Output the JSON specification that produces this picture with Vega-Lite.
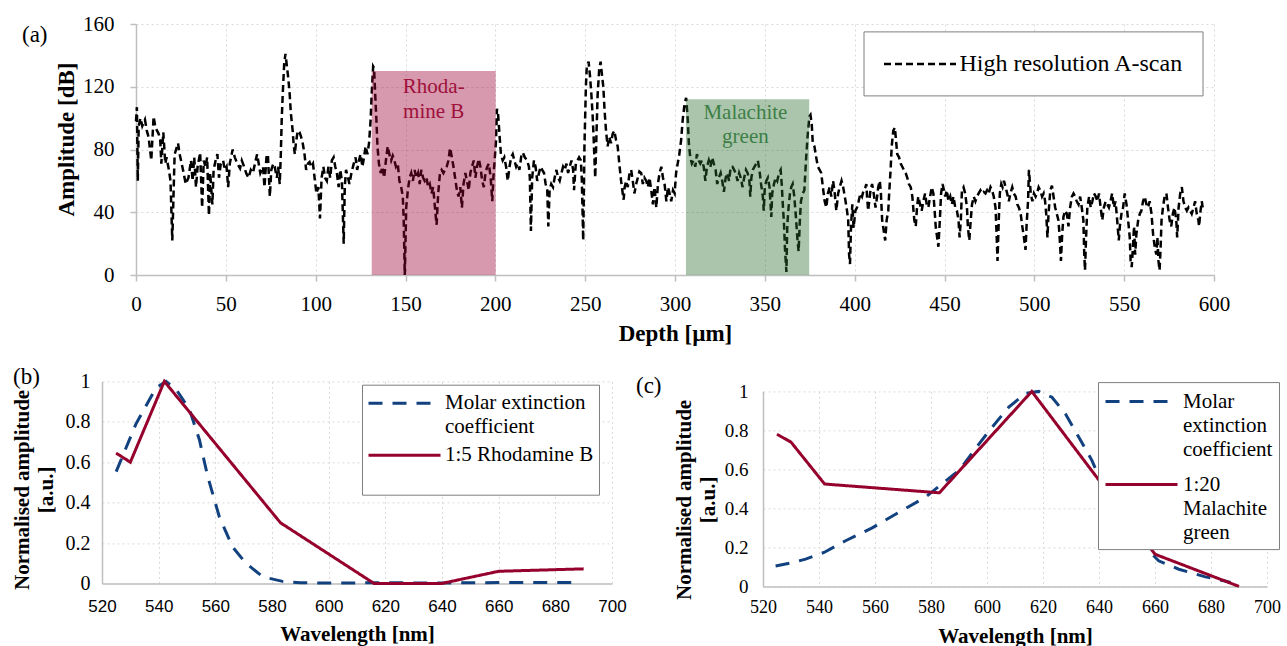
{
  "$schema": "https://vega.github.io/schema/vega-lite/v6.json",
  "padding": {"left": 11, "top": 13, "right": 0, "bottom": 0},
  "background": "white",
  "config": {
    "view": {"stroke": null},
    "font": "Liberation Serif",
    "style": {"guide-label": {"lineHeight": 24}},
    "axis": {
      "labelColor": "#000", "titleColor": "#000", "domainColor": "#bfbfbf", "domainWidth": 1.5,
      "tickColor": "#bfbfbf", "tickWidth": 1.5, "gridColor": "#d9d9d9", "gridDash": [2, 3], "gridWidth": 1,
      "labelFont": "Liberation Serif", "titleFont": "Liberation Serif", "titleFontWeight": "bold",
      "labelFlush": false, "labelOverlap": false
    }
  },
  "datasets": {
    "ascan": [
      {"d":0,"a":98},{"d":0.5,"a":107},{"d":1,"a":60},{"d":1.5,"a":95},{"d":2.5,"a":100},{"d":3.5,"a":95},{"d":5,"a":99},{"d":6,"a":92},{"d":7,"a":88},{"d":8.5,"a":73},{"d":9.8,"a":101},{"d":10.8,"a":94},{"d":12.6,"a":90},{"d":13.5,"a":86},{"d":14.1,"a":71},{"d":15.2,"a":91},{"d":16.3,"a":71},{"d":17,"a":75},{"d":18.3,"a":67},{"d":19.2,"a":60},{"d":20.2,"a":22},{"d":21.5,"a":77},{"d":23.4,"a":84},{"d":24.3,"a":77},{"d":25.8,"a":69},{"d":27.7,"a":58},{"d":29.2,"a":62},{"d":30.6,"a":73},{"d":31.5,"a":60},{"d":32.4,"a":75},{"d":33.4,"a":56},{"d":34.3,"a":69},{"d":35.7,"a":78},{"d":36.8,"a":43},{"d":37.7,"a":73},{"d":38.7,"a":69},{"d":39.6,"a":75},{"d":40.6,"a":38},{"d":41.3,"a":65},{"d":42.5,"a":45},{"d":43.2,"a":67},{"d":44.3,"a":73},{"d":45.3,"a":77},{"d":46.2,"a":62},{"d":47.2,"a":71},{"d":48.5,"a":73},{"d":49.4,"a":67},{"d":50.4,"a":69},{"d":51.3,"a":56},{"d":52.2,"a":71},{"d":53.8,"a":80},{"d":55,"a":75},{"d":56.4,"a":71},{"d":57.9,"a":68},{"d":58.9,"a":73},{"d":60.2,"a":69},{"d":61.3,"a":65},{"d":62.6,"a":62},{"d":63.9,"a":67},{"d":65.1,"a":65},{"d":66.2,"a":71},{"d":67.4,"a":77},{"d":68.3,"a":71},{"d":69.2,"a":65},{"d":70.7,"a":69},{"d":71.5,"a":56},{"d":72.6,"a":75},{"d":73.4,"a":77},{"d":74.5,"a":50},{"d":75.3,"a":67},{"d":76.4,"a":71},{"d":77.2,"a":69},{"d":78.4,"a":62},{"d":79.1,"a":69},{"d":80,"a":58},{"d":80.6,"a":77},{"d":81.1,"a":99},{"d":81.7,"a":116},{"d":82.5,"a":135},{"d":83.2,"a":141},{"d":84,"a":133},{"d":84.7,"a":126},{"d":85.5,"a":116},{"d":86.2,"a":103},{"d":87.2,"a":92},{"d":87.7,"a":84},{"d":88.4,"a":77},{"d":89,"a":84},{"d":90,"a":92},{"d":91,"a":91},{"d":91.9,"a":88},{"d":92.8,"a":84},{"d":93.8,"a":77},{"d":94.7,"a":67},{"d":95.7,"a":71},{"d":96.6,"a":72},{"d":97.5,"a":69},{"d":98.5,"a":71},{"d":99.4,"a":62},{"d":100.4,"a":52},{"d":101.5,"a":56},{"d":102.4,"a":36},{"d":103.3,"a":62},{"d":104.3,"a":69},{"d":105.2,"a":62},{"d":106.2,"a":60},{"d":107.1,"a":69},{"d":108.1,"a":62},{"d":109,"a":73},{"d":110,"a":75},{"d":110.9,"a":69},{"d":111.8,"a":65},{"d":112.8,"a":56},{"d":113.7,"a":67},{"d":114.6,"a":60},{"d":115.6,"a":20},{"d":116.2,"a":56},{"d":116.9,"a":67},{"d":118,"a":62},{"d":118.8,"a":58},{"d":119.9,"a":65},{"d":121.2,"a":71},{"d":122.2,"a":75},{"d":123.1,"a":67},{"d":124.1,"a":73},{"d":125,"a":77},{"d":126,"a":69},{"d":126.9,"a":75},{"d":127.8,"a":82},{"d":128.8,"a":77},{"d":129.7,"a":84},{"d":130.6,"a":99},{"d":131.2,"a":116},{"d":132,"a":133},{"d":132.5,"a":132},{"d":133.1,"a":116},{"d":133.8,"a":99},{"d":134.4,"a":82},{"d":135.2,"a":71},{"d":136.2,"a":65},{"d":137.2,"a":69},{"d":138.1,"a":62},{"d":139.1,"a":73},{"d":140.1,"a":82},{"d":141,"a":77},{"d":142,"a":73},{"d":142.9,"a":76},{"d":143.8,"a":73},{"d":144.7,"a":69},{"d":145.7,"a":71},{"d":146.6,"a":60},{"d":147.6,"a":56},{"d":148.5,"a":50},{"d":149,"a":35},{"d":149.6,"a":0},{"d":150.4,"a":43},{"d":151.3,"a":54},{"d":152.3,"a":62},{"d":153.2,"a":65},{"d":154.1,"a":60},{"d":155.1,"a":67},{"d":156,"a":62},{"d":157,"a":65},{"d":157.9,"a":58},{"d":158.8,"a":67},{"d":159.8,"a":62},{"d":160.7,"a":60},{"d":161.7,"a":62},{"d":162.6,"a":56},{"d":163.5,"a":58},{"d":164.5,"a":52},{"d":165.4,"a":56},{"d":166.4,"a":43},{"d":167.3,"a":32},{"d":168.2,"a":52},{"d":169.2,"a":65},{"d":170.1,"a":67},{"d":171.1,"a":65},{"d":172,"a":67},{"d":172.9,"a":69},{"d":173.9,"a":73},{"d":174.8,"a":81},{"d":175.8,"a":75},{"d":176.7,"a":69},{"d":177.6,"a":62},{"d":178.6,"a":54},{"d":179.5,"a":50},{"d":180.5,"a":56},{"d":181.4,"a":43},{"d":182.3,"a":58},{"d":183.3,"a":65},{"d":184.2,"a":60},{"d":185.2,"a":54},{"d":186.1,"a":65},{"d":187,"a":69},{"d":188,"a":73},{"d":188.9,"a":62},{"d":189.8,"a":69},{"d":190.8,"a":74},{"d":191.7,"a":69},{"d":192.7,"a":60},{"d":193.6,"a":56},{"d":194.5,"a":65},{"d":195.5,"a":69},{"d":196.4,"a":71},{"d":197.4,"a":62},{"d":198.3,"a":47},{"d":198.9,"a":62},{"d":199.6,"a":73},{"d":200.4,"a":86},{"d":200.9,"a":106},{"d":201.5,"a":103},{"d":202.4,"a":88},{"d":203.1,"a":77},{"d":204.1,"a":73},{"d":205,"a":75},{"d":206,"a":69},{"d":206.9,"a":60},{"d":207.9,"a":69},{"d":208.8,"a":75},{"d":209.7,"a":77},{"d":210.6,"a":73},{"d":211.6,"a":69},{"d":212.5,"a":71},{"d":213.4,"a":67},{"d":214.6,"a":77},{"d":215.3,"a":78},{"d":216.4,"a":75},{"d":217.7,"a":73},{"d":218.7,"a":69},{"d":219.2,"a":62},{"d":219.8,"a":28},{"d":220.5,"a":62},{"d":221.5,"a":73},{"d":222.4,"a":69},{"d":223.3,"a":60},{"d":224.3,"a":65},{"d":225.2,"a":69},{"d":226.1,"a":67},{"d":227.1,"a":65},{"d":228,"a":58},{"d":228.9,"a":54},{"d":229.5,"a":31},{"d":230.2,"a":54},{"d":231.1,"a":58},{"d":232.1,"a":56},{"d":233,"a":62},{"d":234,"a":67},{"d":234.9,"a":62},{"d":235.8,"a":60},{"d":236.8,"a":65},{"d":237.7,"a":69},{"d":238.6,"a":67},{"d":239.6,"a":71},{"d":240.5,"a":65},{"d":241.4,"a":69},{"d":242.4,"a":73},{"d":243.3,"a":67},{"d":243.8,"a":54},{"d":244.8,"a":71},{"d":245.7,"a":73},{"d":246.6,"a":75},{"d":247.6,"a":73},{"d":248.1,"a":62},{"d":248.5,"a":43},{"d":248.9,"a":22},{"d":249.3,"a":56},{"d":249.6,"a":82},{"d":250.4,"a":120},{"d":250.9,"a":133},{"d":251.9,"a":136},{"d":252.6,"a":128},{"d":253.4,"a":116},{"d":254.1,"a":103},{"d":254.7,"a":88},{"d":255.2,"a":73},{"d":255.6,"a":62},{"d":256.2,"a":86},{"d":256.9,"a":114},{"d":257.8,"a":131},{"d":258.6,"a":136},{"d":259.3,"a":128},{"d":260.1,"a":120},{"d":260.8,"a":105},{"d":261.6,"a":92},{"d":262.5,"a":82},{"d":263.4,"a":88},{"d":264.4,"a":84},{"d":265.3,"a":90},{"d":266.2,"a":92},{"d":267.2,"a":86},{"d":268.1,"a":82},{"d":269,"a":71},{"d":270,"a":60},{"d":270.9,"a":52},{"d":271.4,"a":48},{"d":272,"a":56},{"d":272.8,"a":60},{"d":273.7,"a":56},{"d":274.7,"a":65},{"d":275.6,"a":67},{"d":276.5,"a":60},{"d":277.4,"a":52},{"d":278.4,"a":58},{"d":279.3,"a":62},{"d":280.2,"a":66},{"d":281.2,"a":65},{"d":282.1,"a":58},{"d":283,"a":62},{"d":284,"a":60},{"d":284.9,"a":56},{"d":285.8,"a":62},{"d":286.8,"a":54},{"d":287.7,"a":45},{"d":288.6,"a":56},{"d":289.6,"a":43},{"d":290.5,"a":58},{"d":291.4,"a":65},{"d":292.4,"a":69},{"d":293.3,"a":62},{"d":294.2,"a":58},{"d":295.2,"a":47},{"d":296.1,"a":56},{"d":297,"a":52},{"d":297.9,"a":47},{"d":298.9,"a":54},{"d":299.8,"a":52},{"d":300.6,"a":65},{"d":301.5,"a":71},{"d":302.4,"a":77},{"d":303.4,"a":86},{"d":304.3,"a":99},{"d":305.3,"a":109},{"d":306.2,"a":113},{"d":307.1,"a":99},{"d":307.7,"a":84},{"d":308.5,"a":75},{"d":309.4,"a":71},{"d":310.3,"a":73},{"d":311.3,"a":69},{"d":312.2,"a":77},{"d":313.2,"a":73},{"d":314.1,"a":71},{"d":315,"a":73},{"d":316,"a":69},{"d":316.9,"a":60},{"d":317.8,"a":69},{"d":318.8,"a":73},{"d":319.7,"a":69},{"d":320.7,"a":75},{"d":321.6,"a":71},{"d":322.6,"a":67},{"d":323.5,"a":58},{"d":324.4,"a":62},{"d":325.4,"a":65},{"d":326.3,"a":60},{"d":327.2,"a":53},{"d":328.2,"a":62},{"d":329.1,"a":65},{"d":330.1,"a":60},{"d":331,"a":69},{"d":332,"a":69},{"d":332.9,"a":67},{"d":333.8,"a":65},{"d":334.8,"a":60},{"d":335.7,"a":65},{"d":336.6,"a":62},{"d":337.6,"a":56},{"d":338.5,"a":62},{"d":339.5,"a":67},{"d":340.4,"a":65},{"d":341.4,"a":60},{"d":341.9,"a":50},{"d":342.5,"a":62},{"d":343.3,"a":67},{"d":344.2,"a":69},{"d":345.2,"a":71},{"d":346.1,"a":73},{"d":347,"a":67},{"d":347.9,"a":58},{"d":348.9,"a":50},{"d":349.4,"a":41},{"d":350,"a":56},{"d":350.8,"a":60},{"d":351.7,"a":62},{"d":352.6,"a":56},{"d":353.6,"a":37},{"d":354.1,"a":52},{"d":355.1,"a":58},{"d":356,"a":62},{"d":356.9,"a":60},{"d":357.9,"a":65},{"d":358.8,"a":67},{"d":359.4,"a":58},{"d":360.1,"a":43},{"d":360.7,"a":32},{"d":361.2,"a":17},{"d":362,"a":2},{"d":362.5,"a":32},{"d":363.2,"a":43},{"d":364,"a":52},{"d":364.7,"a":56},{"d":365.5,"a":58},{"d":366.4,"a":50},{"d":367.3,"a":37},{"d":368.2,"a":22},{"d":368.8,"a":15},{"d":369.5,"a":35},{"d":370.1,"a":47},{"d":371.1,"a":52},{"d":372,"a":54},{"d":372.9,"a":73},{"d":373.9,"a":90},{"d":374.8,"a":101},{"d":375.4,"a":102},{"d":376.1,"a":96},{"d":376.7,"a":84},{"d":377.6,"a":82},{"d":378.6,"a":75},{"d":379.5,"a":69},{"d":380.5,"a":67},{"d":381.4,"a":65},{"d":382.3,"a":56},{"d":383.3,"a":47},{"d":384.2,"a":43},{"d":385.1,"a":52},{"d":386.1,"a":56},{"d":387,"a":50},{"d":388,"a":60},{"d":388.9,"a":52},{"d":389.8,"a":41},{"d":390.8,"a":52},{"d":391.7,"a":56},{"d":392.7,"a":60},{"d":393.6,"a":56},{"d":394.5,"a":50},{"d":395.5,"a":43},{"d":396.4,"a":35},{"d":396.9,"a":13},{"d":397.4,"a":7},{"d":398,"a":32},{"d":398.7,"a":45},{"d":399.4,"a":30},{"d":400.4,"a":41},{"d":401.3,"a":43},{"d":402.2,"a":47},{"d":403.2,"a":52},{"d":404.1,"a":50},{"d":405,"a":54},{"d":406,"a":56},{"d":406.5,"a":58},{"d":406.9,"a":50},{"d":407.5,"a":41},{"d":408.8,"a":54},{"d":409.7,"a":58},{"d":410.6,"a":52},{"d":411.6,"a":43},{"d":412.5,"a":50},{"d":413.1,"a":56},{"d":414,"a":60},{"d":414.6,"a":52},{"d":415.3,"a":35},{"d":416.2,"a":28},{"d":417,"a":22},{"d":417.8,"a":35},{"d":418.7,"a":41},{"d":419.2,"a":52},{"d":420,"a":67},{"d":420.6,"a":82},{"d":421.5,"a":92},{"d":422.4,"a":94},{"d":423,"a":86},{"d":423.7,"a":77},{"d":424.7,"a":75},{"d":425.6,"a":71},{"d":426.5,"a":69},{"d":427.4,"a":67},{"d":428.4,"a":65},{"d":429.3,"a":62},{"d":430.2,"a":58},{"d":431.2,"a":56},{"d":432.1,"a":50},{"d":432.6,"a":43},{"d":433.2,"a":35},{"d":434,"a":31},{"d":434.7,"a":43},{"d":435.4,"a":50},{"d":436.4,"a":45},{"d":437.3,"a":41},{"d":438.2,"a":47},{"d":439.2,"a":52},{"d":440.1,"a":45},{"d":441,"a":43},{"d":442,"a":50},{"d":442.9,"a":56},{"d":443.8,"a":52},{"d":444.4,"a":43},{"d":445.1,"a":31},{"d":445.9,"a":24},{"d":446.6,"a":18},{"d":447.4,"a":35},{"d":448.1,"a":52},{"d":448.9,"a":58},{"d":449.7,"a":54},{"d":450.4,"a":50},{"d":451.3,"a":54},{"d":452.2,"a":47},{"d":453.2,"a":50},{"d":454.1,"a":45},{"d":455,"a":50},{"d":456,"a":43},{"d":456.9,"a":41},{"d":457.8,"a":35},{"d":458.4,"a":24},{"d":459.1,"a":35},{"d":459.7,"a":54},{"d":460.6,"a":56},{"d":461.5,"a":52},{"d":462.5,"a":43},{"d":463,"a":31},{"d":463.8,"a":22},{"d":464.6,"a":35},{"d":465.3,"a":45},{"d":466.3,"a":50},{"d":467.2,"a":47},{"d":468.1,"a":50},{"d":469,"a":52},{"d":470,"a":54},{"d":470.9,"a":52},{"d":471.8,"a":53},{"d":472.8,"a":52},{"d":473.7,"a":54},{"d":474.6,"a":52},{"d":475.6,"a":56},{"d":476.5,"a":54},{"d":477.4,"a":50},{"d":478.4,"a":43},{"d":479,"a":26},{"d":479.5,"a":9},{"d":480.2,"a":35},{"d":480.8,"a":52},{"d":481.6,"a":58},{"d":482.3,"a":56},{"d":483.1,"a":60},{"d":484,"a":56},{"d":484.9,"a":52},{"d":485.8,"a":47},{"d":486.7,"a":52},{"d":487.7,"a":56},{"d":488.6,"a":52},{"d":489.6,"a":50},{"d":490.5,"a":45},{"d":491.4,"a":43},{"d":492.4,"a":39},{"d":493.3,"a":31},{"d":494.2,"a":24},{"d":495.1,"a":16},{"d":495.7,"a":32},{"d":496.5,"a":47},{"d":497,"a":67},{"d":498,"a":52},{"d":498.9,"a":47},{"d":499.8,"a":52},{"d":500.7,"a":50},{"d":501.5,"a":52},{"d":502.4,"a":56},{"d":503.3,"a":54},{"d":504.3,"a":50},{"d":505.2,"a":52},{"d":506,"a":47},{"d":506.6,"a":39},{"d":507.3,"a":24},{"d":507.9,"a":39},{"d":508.9,"a":54},{"d":509.8,"a":57},{"d":510.7,"a":50},{"d":511.6,"a":43},{"d":512.5,"a":39},{"d":513.4,"a":35},{"d":514,"a":26},{"d":514.8,"a":9},{"d":515.5,"a":26},{"d":516.2,"a":37},{"d":517.1,"a":41},{"d":518.1,"a":39},{"d":519,"a":31},{"d":519.9,"a":43},{"d":520.9,"a":50},{"d":521.8,"a":52},{"d":522.7,"a":50},{"d":523.6,"a":47},{"d":524.6,"a":45},{"d":525.5,"a":50},{"d":526.4,"a":43},{"d":527.3,"a":35},{"d":527.8,"a":13},{"d":528.2,"a":3},{"d":528.8,"a":24},{"d":529.5,"a":43},{"d":530.5,"a":50},{"d":531.4,"a":43},{"d":532.3,"a":47},{"d":533.2,"a":52},{"d":534.2,"a":50},{"d":535.1,"a":47},{"d":536,"a":52},{"d":536.9,"a":43},{"d":537.8,"a":35},{"d":538.7,"a":43},{"d":539.7,"a":47},{"d":540.6,"a":45},{"d":541.5,"a":43},{"d":542.4,"a":47},{"d":543.3,"a":52},{"d":544.3,"a":43},{"d":545.2,"a":47},{"d":546.1,"a":35},{"d":547,"a":22},{"d":547.6,"a":31},{"d":548.5,"a":39},{"d":549.4,"a":43},{"d":550.3,"a":52},{"d":551.3,"a":45},{"d":552.2,"a":35},{"d":553.1,"a":24},{"d":553.6,"a":9},{"d":554.2,"a":5},{"d":554.9,"a":18},{"d":555.5,"a":31},{"d":556.1,"a":13},{"d":556.8,"a":26},{"d":557.8,"a":35},{"d":558.7,"a":39},{"d":559.6,"a":41},{"d":560.5,"a":47},{"d":561.4,"a":50},{"d":562.4,"a":45},{"d":563.3,"a":43},{"d":564.2,"a":47},{"d":565.2,"a":39},{"d":566.1,"a":26},{"d":567,"a":18},{"d":567.9,"a":13},{"d":568.5,"a":24},{"d":569.1,"a":9},{"d":569.7,"a":3},{"d":570.3,"a":18},{"d":570.8,"a":35},{"d":571.6,"a":43},{"d":572.5,"a":50},{"d":573.5,"a":52},{"d":574.4,"a":43},{"d":575.3,"a":35},{"d":576.2,"a":31},{"d":577.1,"a":39},{"d":578,"a":43},{"d":579,"a":35},{"d":579.5,"a":24},{"d":580.3,"a":43},{"d":581.2,"a":52},{"d":582.1,"a":56},{"d":583,"a":47},{"d":584,"a":43},{"d":584.9,"a":41},{"d":585.8,"a":43},{"d":586.7,"a":41},{"d":587.6,"a":39},{"d":588.6,"a":43},{"d":589.5,"a":47},{"d":590.4,"a":39},{"d":591.3,"a":35},{"d":591.7,"a":31},{"d":592.3,"a":39},{"d":593.2,"a":47},{"d":593.7,"a":43}
    ],
    "specB": [
      {"w":525,"v":0.553,"s":"Molar extinction coefficient"},{"w":532,"v":0.79,"s":"Molar extinction coefficient"},{"w":539,"v":0.967,"s":"Molar extinction coefficient"},{"w":542.6,"v":1.0,"s":"Molar extinction coefficient"},{"w":546.2,"v":0.96,"s":"Molar extinction coefficient"},{"w":550.9,"v":0.86,"s":"Molar extinction coefficient"},{"w":554.4,"v":0.71,"s":"Molar extinction coefficient"},{"w":557.3,"v":0.53,"s":"Molar extinction coefficient"},{"w":561.4,"v":0.33,"s":"Molar extinction coefficient"},{"w":566.1,"v":0.18,"s":"Molar extinction coefficient"},{"w":570.8,"v":0.10,"s":"Molar extinction coefficient"},{"w":576.7,"v":0.033,"s":"Molar extinction coefficient"},{"w":583.7,"v":0.01,"s":"Molar extinction coefficient"},{"w":590,"v":0.003,"s":"Molar extinction coefficient"},{"w":600,"v":0.002,"s":"Molar extinction coefficient"},{"w":620,"v":0.003,"s":"Molar extinction coefficient"},{"w":640,"v":0.002,"s":"Molar extinction coefficient"},{"w":660,"v":0.004,"s":"Molar extinction coefficient"},{"w":680,"v":0.004,"s":"Molar extinction coefficient"},{"w":688,"v":0.004,"s":"Molar extinction coefficient"},
      {"w":525,"v":0.645,"s":"1:5 Rhodamine B"},{"w":530,"v":0.6,"s":"1:5 Rhodamine B"},{"w":542,"v":1.0,"s":"1:5 Rhodamine B"},{"w":583,"v":0.3,"s":"1:5 Rhodamine B"},{"w":616,"v":0,"s":"1:5 Rhodamine B"},{"w":640,"v":0,"s":"1:5 Rhodamine B"},{"w":660,"v":0.06,"s":"1:5 Rhodamine B"},{"w":690,"v":0.072,"s":"1:5 Rhodamine B"}
    ],
    "specC": [
      {"w":524.5,"v":0.105,"s":"Molar extinction coefficient"},{"w":530,"v":0.12,"s":"Molar extinction coefficient"},{"w":535.2,"v":0.14,"s":"Molar extinction coefficient"},{"w":541.8,"v":0.174,"s":"Molar extinction coefficient"},{"w":549.5,"v":0.234,"s":"Molar extinction coefficient"},{"w":559,"v":0.30,"s":"Molar extinction coefficient"},{"w":568.5,"v":0.38,"s":"Molar extinction coefficient"},{"w":578,"v":0.457,"s":"Molar extinction coefficient"},{"w":587.6,"v":0.568,"s":"Molar extinction coefficient"},{"w":590,"v":0.594,"s":"Molar extinction coefficient"},{"w":597.1,"v":0.73,"s":"Molar extinction coefficient"},{"w":601.8,"v":0.816,"s":"Molar extinction coefficient"},{"w":607.8,"v":0.92,"s":"Molar extinction coefficient"},{"w":613.8,"v":0.99,"s":"Molar extinction coefficient"},{"w":618.5,"v":1.0,"s":"Molar extinction coefficient"},{"w":623.2,"v":0.97,"s":"Molar extinction coefficient"},{"w":628,"v":0.885,"s":"Molar extinction coefficient"},{"w":632.8,"v":0.765,"s":"Molar extinction coefficient"},{"w":637.5,"v":0.645,"s":"Molar extinction coefficient"},{"w":641.1,"v":0.525,"s":"Molar extinction coefficient"},{"w":645.9,"v":0.405,"s":"Molar extinction coefficient"},{"w":650.6,"v":0.30,"s":"Molar extinction coefficient"},{"w":656.6,"v":0.2,"s":"Molar extinction coefficient"},{"w":661.3,"v":0.131,"s":"Molar extinction coefficient"},{"w":668.5,"v":0.088,"s":"Molar extinction coefficient"},{"w":678,"v":0.049,"s":"Molar extinction coefficient"},{"w":685,"v":0.028,"s":"Molar extinction coefficient"},{"w":687,"v":0.02,"s":"Molar extinction coefficient"},
      {"w":525,"v":0.78,"s":"1:20 Malachite green"},{"w":530,"v":0.74,"s":"1:20 Malachite green"},{"w":542,"v":0.525,"s":"1:20 Malachite green"},{"w":583,"v":0.48,"s":"1:20 Malachite green"},{"w":616,"v":1.0,"s":"1:20 Malachite green"},{"w":660,"v":0.165,"s":"1:20 Malachite green"},{"w":690,"v":0.0,"s":"1:20 Malachite green"}
    ]
  },
  "vconcat": [
    {
      "hconcat": [
        {"width": 33.5, "height": 10, "data": {"values": []}, "mark": "point", "encoding": {}},
        {
          "width": 1078, "height": 251,
          "title": {"text": "(a)", "anchor": "start", "frame": "group", "orient": "top", "dx": -114, "dy": 44.7, "offset": 0, "baseline": "middle", "font": "Liberation Serif", "fontSize": 23, "fontWeight": "normal", "color": "#000"},
          "layer": [
            {
              "data": {"name": "ascan"},
              "mark": {"type": "line", "color": "#000", "strokeWidth": 2.5},
              "encoding": {
                "x": {"field": "d", "type": "quantitative", "scale": {"domain": [0, 600], "nice": false},
                  "axis": {"title": "Depth [µm]", "values": [0,50,100,150,200,250,300,350,400,450,500,550,600], "grid": true, "tickSize": 6, "labelFontSize": 21, "labelPadding": 12, "titleFontSize": 23, "titlePadding": 8}},
                "y": {"field": "a", "type": "quantitative", "scale": {"domain": [0, 160], "nice": false},
                  "axis": {"title": "Amplitude [dB]", "values": [0,40,80,120,160], "grid": true, "tickSize": 6, "labelFontSize": 21, "labelPadding": 16, "titleFontSize": 23, "titlePadding": 4, "titleY": 115}},
                "strokeDash": {"datum": "High resolution A-scan", "type": "nominal", "scale": {"range": [[7, 4]]},
                  "legend": {"orient": "none", "legendX": 761.5, "legendY": 7.4, "title": null, "symbolType": "M-3,0H3", "symbolSize": 576, "symbolOffset": 24, "symbolStrokeWidth": 2.5, "symbolStrokeColor": "#000", "labelFont": "Liberation Serif", "labelFontSize": 24, "labelColor": "#000", "labelLimit": 400, "labelOffset": 26, "strokeColor": "#7f7f7f", "fillColor": "#ffffff", "padding": 19}}
              }
            },
            {
              "data": {"values": [{"x1": 131.2, "x2": 200.2, "y1": 0, "y2": 130}]},
              "mark": {"type": "rect", "color": "#990033", "opacity": 0.4},
              "encoding": {
                "x": {"field": "x1", "type": "quantitative"},
                "x2": {"field": "x2"},
                "y": {"field": "y1", "type": "quantitative"},
                "y2": {"field": "y2"}
              }
            },
            {
              "data": {"values": [{"x1": 306.1, "x2": 374.7, "y1": 0, "y2": 112}]},
              "mark": {"type": "rect", "color": "#2a6e2f", "opacity": 0.4},
              "encoding": {
                "x": {"field": "x1", "type": "quantitative"},
                "x2": {"field": "x2"},
                "y": {"field": "y1", "type": "quantitative"},
                "y2": {"field": "y2"}
              }
            },
            {
              "data": {"values": [{"x": 165.7, "y": 120, "t": "Rhoda-"}, {"x": 165.7, "y": 104, "t": "mine B"}]},
              "mark": {"type": "text", "color": "#a0103c", "font": "Liberation Serif", "fontSize": 21, "baseline": "middle", "align": "center"},
              "encoding": {
                "x": {"field": "x", "type": "quantitative"},
                "y": {"field": "y", "type": "quantitative"},
                "text": {"field": "t", "type": "nominal"}
              }
            },
            {
              "data": {"values": [{"x": 339.2, "y": 103.4, "t": "Malachite"}, {"x": 339.2, "y": 88.1, "t": "green"}]},
              "mark": {"type": "text", "color": "#3e7f46", "font": "Liberation Serif", "fontSize": 21, "baseline": "middle", "align": "center"},
              "encoding": {
                "x": {"field": "x", "type": "quantitative"},
                "y": {"field": "y", "type": "quantitative"},
                "text": {"field": "t", "type": "nominal"}
              }
            }
          ]
        }
      ],
      "spacing": 0,
      "bounds": "flush"
    },
    {
      "hconcat": [
        {
          "width": 510, "height": 202,
          "title": {"text": "(b)", "anchor": "start", "frame": "group", "orient": "top", "dx": -89, "dy": 29, "offset": 0, "baseline": "middle", "font": "Liberation Serif", "fontSize": 23, "fontWeight": "normal", "color": "#000"},
          "data": {"name": "specB"},
          "mark": {"type": "line", "strokeWidth": 3},
          "encoding": {
            "x": {"field": "w", "type": "quantitative", "scale": {"domain": [520, 700], "nice": false},
              "axis": {"title": "Wavelength [nm]", "values": [520,540,560,580,600,620,640,660,680,700], "grid": true, "ticks": false, "labelFont": "Liberation Sans", "labelFontSize": 17, "labelPadding": 15, "titleFontSize": 21, "titlePadding": 9}},
            "y": {"field": "v", "type": "quantitative", "scale": {"domain": [0, 1], "nice": false},
              "axis": {"title": ["Normalised amplitude", "[a.u.]"], "values": [0,0.2,0.4,0.6,0.8,1], "format": "~g", "grid": true, "ticks": false, "labelFontSize": 20, "labelPadding": 12, "titleFontSize": 21, "titleLineHeight": 24, "titlePadding": 9, "titleY": 108}},
            "color": {"field": "s", "type": "nominal", "scale": {"domain": ["Molar extinction coefficient", "1:5 Rhodamine B"], "range": ["#12417f", "#95002c"]},
              "legend": {"orient": "none", "legendX": 260, "legendY": 3.3, "title": null, "symbolType": "M-3,0H3", "symbolSize": 576, "symbolOffset": 24, "symbolStrokeWidth": 3, "labelFont": "Liberation Serif", "labelFontSize": 21, "labelColor": "#000", "labelLimit": 400, "labelOffset": 27, "labelExpr": "datum.label == 'Molar extinction coefficient' ? ['Molar extinction', 'coefficient'] : ['1:5 Rhodamine B', '']", "strokeColor": "#7f7f7f", "fillColor": "#ffffff", "padding": 5, "rowPadding": 4}},
            "strokeDash": {"field": "s", "type": "nominal", "scale": {"domain": ["Molar extinction coefficient", "1:5 Rhodamine B"], "range": [[14, 10], [1, 0]]},
              "legend": {"orient": "none", "legendX": 260, "legendY": 3.3, "title": null, "symbolType": "M-3,0H3", "symbolSize": 576, "symbolOffset": 24, "symbolStrokeWidth": 3, "labelFont": "Liberation Serif", "labelFontSize": 21, "labelColor": "#000", "labelLimit": 400, "labelOffset": 27, "labelExpr": "datum.label == 'Molar extinction coefficient' ? ['Molar extinction', 'coefficient'] : ['1:5 Rhodamine B', '']", "strokeColor": "#7f7f7f", "fillColor": "#ffffff", "padding": 5, "rowPadding": 4}}
          }
        },
        {
          "vconcat": [
            {"width": 10, "height": 9.3, "data": {"values": []}, "mark": "point", "encoding": {}},
            {
              "width": 504, "height": 195,
              "title": {"text": "(c)", "anchor": "start", "frame": "group", "orient": "top", "dx": -127, "dy": 27, "offset": 0, "baseline": "middle", "font": "Liberation Serif", "fontSize": 23, "fontWeight": "normal", "color": "#000"},
              "data": {"name": "specC"},
              "mark": {"type": "line", "strokeWidth": 3},
              "encoding": {
                "x": {"field": "w", "type": "quantitative", "scale": {"domain": [520, 700], "nice": false},
                  "axis": {"title": "Wavelength [nm]", "values": [520,540,560,580,600,620,640,660,680,700], "grid": true, "ticks": false, "labelFontSize": 18, "labelPadding": 12, "titleFontSize": 21, "titlePadding": 9}},
                "y": {"field": "v", "type": "quantitative", "scale": {"domain": [0, 1], "nice": false},
                  "axis": {"title": ["Normalised amplitude", "[a.u.]"], "values": [0,0.2,0.4,0.6,0.8,1], "format": "~g", "grid": true, "ticks": false, "labelFontSize": 19, "labelPadding": 15, "titleFontSize": 21, "titleLineHeight": 24, "titlePadding": 6, "titleY": 108}},
                "color": {"field": "s", "type": "nominal", "scale": {"domain": ["Molar extinction coefficient", "1:20 Malachite green"], "range": ["#12417f", "#95002c"]},
                  "legend": {"orient": "none", "legendX": 335, "legendY": -9.3, "title": null, "symbolType": "M-3,0H3", "symbolSize": 576, "symbolOffset": 24, "symbolStrokeWidth": 3, "labelFont": "Liberation Serif", "labelFontSize": 21, "labelColor": "#000", "labelLimit": 400, "labelOffset": 28, "labelExpr": "datum.label == 'Molar extinction coefficient' ? ['Molar', 'extinction', 'coefficient'] : ['1:20', 'Malachite', 'green']", "strokeColor": "#7f7f7f", "fillColor": "#ffffff", "padding": 6, "rowPadding": 11}},
                "strokeDash": {"field": "s", "type": "nominal", "scale": {"domain": ["Molar extinction coefficient", "1:20 Malachite green"], "range": [[14, 10], [1, 0]]},
                  "legend": {"orient": "none", "legendX": 335, "legendY": -9.3, "title": null, "symbolType": "M-3,0H3", "symbolSize": 576, "symbolOffset": 24, "symbolStrokeWidth": 3, "labelFont": "Liberation Serif", "labelFontSize": 21, "labelColor": "#000", "labelLimit": 400, "labelOffset": 28, "labelExpr": "datum.label == 'Molar extinction coefficient' ? ['Molar', 'extinction', 'coefficient'] : ['1:20', 'Malachite', 'green']", "strokeColor": "#7f7f7f", "fillColor": "#ffffff", "padding": 6, "rowPadding": 11}}
              }
            }
          ],
          "spacing": 0,
          "bounds": "flush",
          "resolve": {"scale": {"color": "independent", "strokeDash": "independent"}, "legend": {"color": "independent", "strokeDash": "independent"}}
        }
      ],
      "spacing": 151,
      "bounds": "flush",
      "resolve": {"scale": {"color": "independent", "strokeDash": "independent"}, "legend": {"color": "independent", "strokeDash": "independent"}}
    }
  ],
  "spacing": 357.4,
  "bounds": "flush",
  "resolve": {"scale": {"color": "independent", "strokeDash": "independent"}, "legend": {"color": "independent", "strokeDash": "independent"}}
}
